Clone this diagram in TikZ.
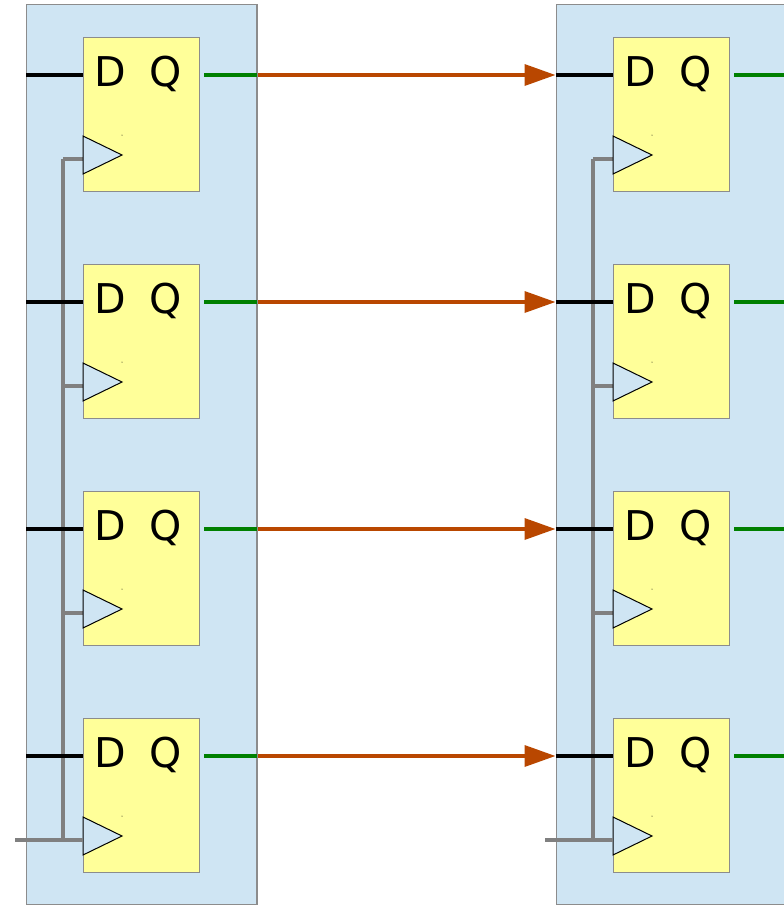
\documentclass[tikz,border=0pt]{standalone}
\usepackage{fontspec}
\setmainfont{DejaVu Sans}
\usetikzlibrary{arrows.meta}
\definecolor{panelblue}{HTML}{CFE5F3}
\definecolor{ffyellow}{HTML}{FFFF99}
\definecolor{wiregreen}{HTML}{008000}
\definecolor{busorange}{HTML}{B94700}
\definecolor{clkgray}{HTML}{808080}
\definecolor{edgegray}{HTML}{8C8C8C}
\begin{document}
\begin{tikzpicture}[x=1pt,y=-1pt,
  panel/.style={draw=edgegray, fill=panelblue, line width=1pt, inner sep=0pt, minimum height=900pt, anchor=north west},
  ffbox/.style={draw=edgegray, fill=ffyellow, line width=1pt, minimum width=116pt, minimum height=154pt, inner sep=0pt, anchor=north west},
  pin/.style={font=\fontsize{41}{41}\selectfont, inner sep=0pt, anchor=base},
  dwire/.style={line width=3.5pt, black},
  qwire/.style={line width=4pt, wiregreen},
  clk/.style={line width=3.5pt, clkgray},
  bus/.style={line width=3.5pt, busorange, -{Triangle[length=31pt,width=21pt]}},
  clktri/.style={draw=black, fill=panelblue, line width=1pt, line join=miter}
]
\useasboundingbox (0,0) rectangle (784,906);
\clip (0,0) rectangle (784,906);
\fill[white] (0,0) rectangle (784,906);
% panels
\node[panel, minimum width=230pt] (PL) at (26,4) {};
\node[panel, minimum width=240pt] (PR) at (555.5,4) {};
\foreach \s/\dx in {L/0, R/530} {
  % vertical clock line
  \coordinate (\s-ct) at (63+\dx, 159);
  \coordinate (\s-cb) at (63+\dx, 840);
  \draw[clk] (\s-ct) -- (\s-cb);
  \foreach \i in {0,...,3} {
    \pgfmathsetmacro\yy{37+227*\i}
    \node[ffbox] (\s\i) at (83+\dx, \yy) {};
    \coordinate (\s\i-d) at (83+\dx, \yy+38);
    \coordinate (\s\i-q) at (204+\dx, \yy+38);
    \coordinate (\s\i-c) at (83+\dx, \yy+122);
    \coordinate (\s\i-cj) at (63+\dx, \yy+122);
    \draw[clk] (\s\i-cj) -- (\s\i-c);
    \node[pin] (\s\i-D) at (110+\dx, \yy+49) {D};
    \node[pin] (\s\i-Q) at (166+\dx, \yy+49) {Q};
    \draw[clktri] (83+\dx, \yy+99) -- (122+\dx, \yy+118) -- (83+\dx, \yy+137) -- cycle;
    \fill[black] (122+\dx, \yy+98) circle (0.5pt);
  }
}
% data input wires (on top of clock lines)
\foreach \s/\p in {L/PL, R/PR} {
  \foreach \i in {0,...,3} {
    \draw[dwire] (\p.west |- \s\i-d) -- (\s\i-d);
  }
}
% clock inputs
\coordinate (L-cin) at (15, 840);
\coordinate (R-cin) at (545, 840);
\draw[clk] (L-cin) -- (L3-c);
\draw[clk] (R-cin) -- (R3-c);
% outputs and buses
\foreach \i in {0,...,3} {
  \draw[qwire] (L\i-q) -- (PL.east |- L\i-q);
  \draw[bus] (PL.east |- L\i-q) -- (PR.west |- L\i-q);
  \coordinate (R\i-out) at (790, 0 |- R\i-q);
  \draw[qwire] (R\i-q) -- (R\i-out);
}
\draw[edgegray, line width=1pt] (PL.north east) -- (PL.south east);
\end{tikzpicture}
\end{document}
